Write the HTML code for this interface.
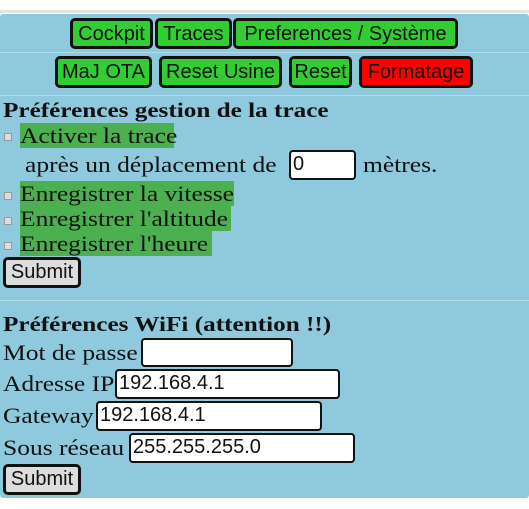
<!DOCTYPE html>
<html><head><meta charset="utf-8"><style>
*{margin:0;padding:0;box-sizing:border-box}
body{width:529px;height:509px;background:#fff;position:relative;overflow:hidden;font-family:"Liberation Serif",serif;font-size:22px;color:#111}
.bg{position:absolute;left:0;top:14px;width:529px;height:484px;background:#8fc9dd;border-radius:3px}
.top{position:absolute;left:0;top:10px;width:529px;height:3px;background:#e4e4e4}
.sep{position:absolute;left:0;width:529px;height:1px;background:#b0dbe8}
.b{position:absolute;border:3px solid #111;border-radius:5px;background:#32cd32;font-family:"Liberation Sans",sans-serif;font-size:20px;text-align:center;line-height:26px;color:#111}
.a{position:absolute;white-space:nowrap;line-height:25px}
.t{display:inline-block;transform:scaleX(1.16);transform-origin:0 0}
.h{display:inline-block;transform:scaleX(1.2);transform-origin:0 0;font-weight:bold;font-size:21px}
.g{background:#4caf50}
.i{position:absolute;border:2.5px solid #111;border-radius:4px;background:#fff;font-family:"Liberation Sans",sans-serif;font-size:20px;line-height:25px;padding-left:2px}
.cb{position:absolute;left:4px;width:8px;height:8px;background:#ddd;border:1px solid #999}
.s{position:absolute;left:3px;width:78px;border:3px solid #111;border-radius:5px;background:#ddd;font-family:"Liberation Sans",sans-serif;font-size:20px;text-align:center;line-height:25px}
</style></head><body>
<div class="top"></div>
<div class="bg"></div>
<div class="sep" style="top:52px"></div>
<div class="sep" style="top:95px"></div>
<div class="sep" style="top:300px"></div>
<div class="b" style="left:70px;top:18px;width:83px;height:31px">Cockpit</div>
<div class="b" style="left:155px;top:18px;width:77px;height:31px">Traces</div>
<div class="b" style="left:233px;top:18px;width:225px;height:31px">Preferences / Système</div>
<div class="b" style="left:55px;top:56px;width:97px;height:32px">MaJ OTA</div>
<div class="b" style="left:159px;top:56px;width:123px;height:32px">Reset Usine</div>
<div class="b" style="left:289px;top:56px;width:63px;height:32px">Reset</div>
<div class="b" style="left:359px;top:56px;width:114px;height:32px;background:#f00">Formatage</div>
<div class="a" style="left:3px;top:97px"><span class="h">Préférences gestion de la trace</span></div>
<div class="cb" style="top:133px"></div>
<div class="a g" style="left:20px;top:123px;width:154px"><span class="t">Activer la trace</span></div>
<div class="a" style="left:25px;top:152px"><span class="t">après un déplacement de</span></div>
<div class="i" style="left:289px;top:150px;width:67px;height:30px">0</div>
<div class="a" style="left:363px;top:152px"><span class="t">mètres.</span></div>
<div class="cb" style="top:192px"></div>
<div class="a g" style="left:20px;top:181px;width:214px"><span class="t">Enregistrer la vitesse</span></div>
<div class="cb" style="top:217px"></div>
<div class="a g" style="left:20px;top:206px;width:211px"><span class="t">Enregistrer l'altitude</span></div>
<div class="cb" style="top:242px"></div>
<div class="a g" style="left:20px;top:231px;width:192px"><span class="t">Enregistrer l'heure</span></div>
<div class="s" style="top:257px;height:31px">Submit</div>
<div class="a" style="left:3px;top:311px"><span class="h">Préférences WiFi (attention !!)</span></div>
<div class="a" style="left:3px;top:340px"><span class="t">Mot de passe</span></div>
<div class="i" style="left:141px;top:338px;width:152px;height:29px"></div>
<div class="a" style="left:3px;top:371px"><span class="t">Adresse IP</span></div>
<div class="i" style="left:115px;top:369px;width:225px;height:30px">192.168.4.1</div>
<div class="a" style="left:3px;top:403px"><span class="t">Gateway</span></div>
<div class="i" style="left:96px;top:401px;width:226px;height:30px">192.168.4.1</div>
<div class="a" style="left:3px;top:435px"><span class="t">Sous réseau</span></div>
<div class="i" style="left:129px;top:433px;width:226px;height:30px">255.255.255.0</div>
<div class="s" style="top:464px;height:31px">Submit</div>
</body></html>
